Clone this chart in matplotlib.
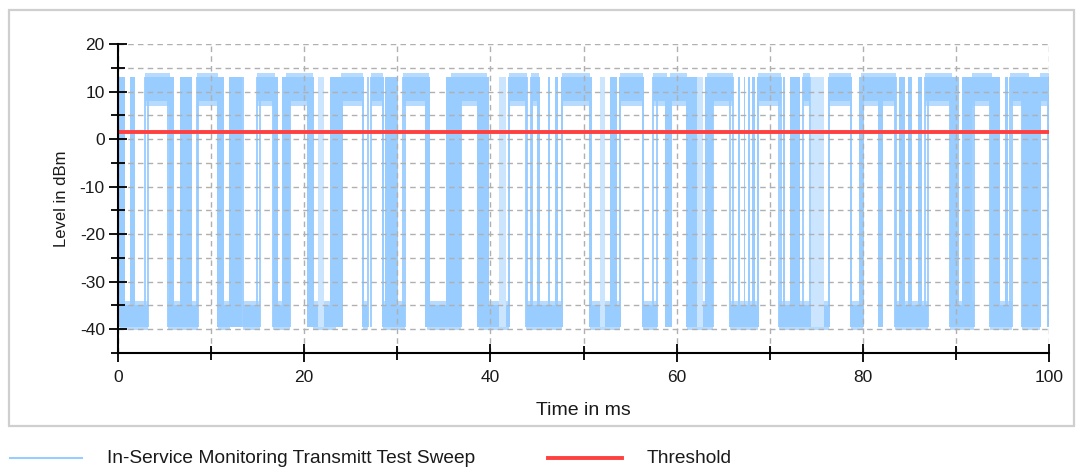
import matplotlib
matplotlib.use("Agg")
import matplotlib.pyplot as plt
from matplotlib.ticker import MultipleLocator
from matplotlib.lines import Line2D
from matplotlib.patches import Rectangle

plt.rcParams['font.family'] = ['Liberation Sans', 'DejaVu Sans']
plt.rcParams['axes.unicode_minus'] = False

# ---- data (time in ms, level in dBm) ----
high_start = [2.9, 8.5, 14.9, 18.0, 24.0, 27.2, 30.6, 35.8, 42.0, 44.4, 47.7, 53.9,
              57.5, 59.3, 63.3, 68.7, 73.6, 76.4, 79.8, 86.7, 91.7, 95.8, 99.0]
high_end = [5.6, 10.7, 16.9, 20.9, 26.3, 28.5, 33.4, 39.6, 43.9, 45.2, 50.7, 56.4,
            59.0, 61.1, 66.1, 71.2, 74.3, 78.7, 83.6, 89.6, 93.9, 97.9, 100.0]
low_start = [0.2, 5.4, 10.7, 13.4, 16.6, 20.9, 26.3, 28.5, 33.2, 38.8, 43.8, 50.7,
             56.4, 61.1, 65.7, 71.0, 78.7, 83.5, 89.4, 93.7, 97.1]
low_end = [3.2, 8.6, 12.0, 15.3, 18.5, 23.4, 26.8, 30.8, 36.8, 42.0, 47.7, 53.9,
           57.9, 63.9, 68.7, 76.4, 80.0, 87.0, 91.9, 96.0, 99.0]
burst_start = [0.0, 1.3, 5.5, 6.7, 10.7, 11.9, 16.6, 17.6, 20.3, 21.5, 22.8, 28.7,
               33.0, 35.2, 38.6, 40.9, 44.4, 45.0, 46.2, 46.9, 50.7, 51.8, 52.8,
               58.8, 61.1, 62.2, 63.0, 66.6, 67.2, 67.7, 68.1, 71.4, 72.2, 74.4,
               79.6, 81.6, 83.9, 84.9, 85.9, 89.4, 90.7, 93.7, 95.3, 97.1, 99.8]
burst_end = [0.75, 1.8, 6.0, 7.9, 11.4, 13.3, 17.2, 18.5, 20.9, 22.1, 24.2, 30.1,
             33.5, 36.8, 39.8, 41.7, 44.6, 45.3, 46.4, 47.3, 50.9, 52.3, 53.6,
             59.5, 62.2, 62.8, 63.9, 66.8, 67.4, 67.9, 68.4, 71.6, 73.3, 75.8,
             80.1, 82.2, 84.5, 85.3, 86.4, 90.3, 91.7, 94.7, 95.6, 99.0, 100.0]
burst_light = [0, 0, 0, 0, 0, 0, 0, 0, 0, 1, 0, 0,
               0, 0, 0, 1, 0, 0, 0, 0, 0, 1, 0,
               0, 0, 1, 0, 0, 0, 0, 0, 0, 0, 1,
               0, 0, 0, 0, 0, 0, 0, 0, 0, 0, 0]
high_band = (8.0, 13.0)
high_band_outer = (7.0, 14.0)
low_band = (-39.5, -35.0)
low_band_outer = (-40.2, -34.0)
threshold = 1.5

series_name = "In-Service Monitoring Transmitt Test Sweep"
threshold_name = "Threshold"
x_label = "Time in ms"
y_label = "Level in dBm"

BLUE = "#99CCFF"
BLUE_LIGHT = "#CCE5FF"
RED = "#FF4040"
TXT = "#1a1a1a"

fig = plt.figure(figsize=(10.81, 4.69), dpi=100)
W, H = 1081, 469

# outer frame
fig.patches.append(Rectangle((9 / W, 1 - 426 / H), (1074 - 9) / W, (426 - 10) / H,
                             transform=fig.transFigure, fill=False,
                             edgecolor="#cfcfcf", linewidth=1.6))

ax = fig.add_axes([118 / W, 1 - 353 / H, (1049 - 118) / W, (353 - 44) / H])
ax.set_xlim(0, 100)
ax.set_ylim(-45, 20)

# signal
for s, e in zip(high_start, high_end):
    ax.fill_between([s, e], *high_band_outer, color=BLUE, alpha=0.7, lw=0, zorder=2)
    ax.fill_between([s, e], *high_band, color=BLUE, lw=0, zorder=2)
for s, e in zip(low_start, low_end):
    ax.fill_between([s, e], *low_band_outer, color=BLUE, alpha=0.7, lw=0, zorder=2)
    ax.fill_between([s, e], *low_band, color=BLUE, lw=0, zorder=2)
for s, e, lt in zip(burst_start, burst_end, burst_light):
    ax.fill_between([s, e], low_band[0], high_band[1],
                    color=BLUE_LIGHT if lt else BLUE, lw=0, zorder=2)
edges = high_start + high_end + low_start + low_end
ax.vlines(edges, low_band[0], high_band[1], color=BLUE, lw=1.3, zorder=2)

ax.axhline(threshold, color=RED, lw=2.8, zorder=4)

# axes styling
for sp in ("top", "right"):
    ax.spines[sp].set_visible(False)
for sp in ("left", "bottom"):
    ax.spines[sp].set_linewidth(1.5)
    ax.spines[sp].set_color("black")
    ax.spines[sp].set_zorder(5)

ax.xaxis.set_major_locator(MultipleLocator(20))
ax.xaxis.set_minor_locator(MultipleLocator(10))
ax.yaxis.set_major_locator(MultipleLocator(10))
ax.yaxis.set_minor_locator(MultipleLocator(5))
ax.tick_params(which="both", direction="inout", color="black", width=1.3,
               labelsize=12.5, labelcolor=TXT)
ax.tick_params(which="major", length=13)
ax.tick_params(which="minor", length=10)
ax.tick_params(axis="x", pad=6)
ax.tick_params(axis="y", pad=3)

ax.grid(which="both", color="#b0b0b0", linestyle=(0, (4, 3)), linewidth=1.0, zorder=3)
ax.set_axisbelow(False)

ax.set_xlabel(x_label, fontsize=14, color=TXT, labelpad=12)
ax.set_ylabel(y_label, fontsize=12, color=TXT, labelpad=8)

# legend
fig.add_artist(Line2D([10 / W, 82 / W], [1 - 458 / H] * 2, transform=fig.transFigure,
                      color=BLUE, lw=1.5))
fig.text(107 / W, 1 - 458 / H, series_name, fontsize=13.8, color=TXT,
         va="center", ha="left")
fig.add_artist(Line2D([548 / W, 622 / W], [1 - 458 / H] * 2, transform=fig.transFigure,
                      color=RED, lw=2.8))
fig.text(647 / W, 1 - 458 / H, threshold_name, fontsize=13.8, color=TXT,
         va="center", ha="left")

fig.savefig("out.png", dpi=100)
